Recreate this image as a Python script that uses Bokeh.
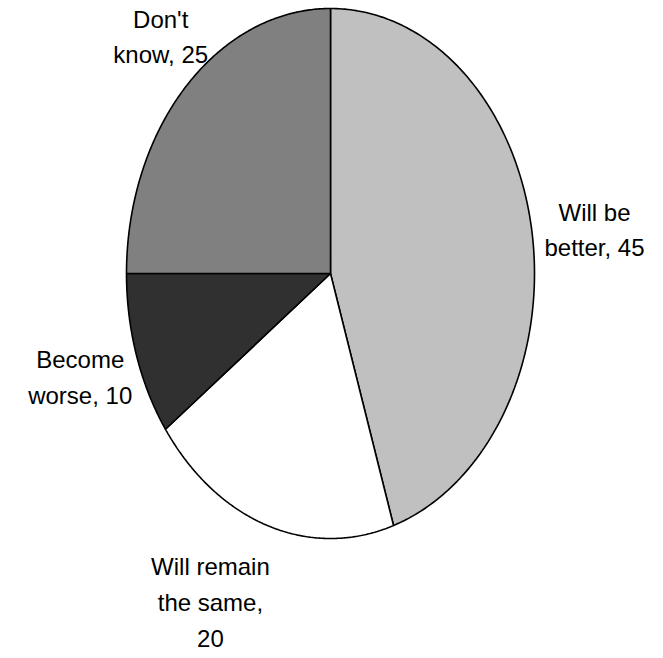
import numpy as np
from bokeh.plotting import figure
from bokeh.models import Range1d, ColumnDataSource
from bokeh.core.properties import value
from bokeh.embed import file_html
from bokeh.resources import INLINE

# ---- data ----
categories = ["Will be better", "Will remain the same", "Become worse", "Don't know"]
values = [45, 20, 10, 25]
label_texts = ["Will be\nbetter, 45", "Will remain\nthe same,\n20", "Become\nworse, 10", "Don't\nknow, 25"]
colors = ["#c0c0c0", "#ffffff", "#303030", "#808080"]

# ---- layout (pie drawn as unit circle; axis scales make it an ellipse) ----
W, H = 663, 658
cx_px, cy_px, rx_px, ry_px = 330, 273, 204, 265
label_r = 1.29
label_nudge_x = [0.02, -0.19, 0.0, 0.08]
label_nudge_y = [-0.037, -0.015, 0.005, -0.02]

p = figure(width=W, height=H, output_backend="svg", toolbar_location=None,
           min_border=0, x_axis_type=None, y_axis_type=None)
p.x_range = Range1d(-cx_px / rx_px, (W - cx_px) / rx_px)
p.y_range = Range1d(-(H - cy_px) / ry_px, cy_px / ry_px)
p.grid.visible = False
p.outline_line_color = None
p.background_fill_color = "white"
p.border_fill_color = "white"

total = float(sum(values))
xs, ys, lx, ly = [], [], [], []
start = np.pi / 2
for i, v in enumerate(values):
    sweep = 2 * np.pi * v / total
    end = start - sweep
    t = np.linspace(start, end, 200)
    xs.append([0.0] + list(np.cos(t)) + [0.0])
    ys.append([0.0] + list(np.sin(t)) + [0.0])
    mid = (start + end) / 2
    lx.append(label_r * np.cos(mid) + label_nudge_x[i])
    ly.append(label_r * np.sin(mid) + label_nudge_y[i])
    start = end

src = ColumnDataSource(dict(xs=xs, ys=ys, color=colors, cat=categories))
p.patches("xs", "ys", source=src, fill_color="color", line_color="black",
          line_width=1.6)

lsrc = ColumnDataSource(dict(x=lx, y=ly, text=label_texts))
p.text("x", "y", text="text", source=lsrc, text_align="center",
       text_baseline="middle", text_font=value("Liberation Sans"),
       text_font_size="24px", text_color="black", text_line_height=1.32)

open("out.html", "w").write(file_html(p, INLINE))
